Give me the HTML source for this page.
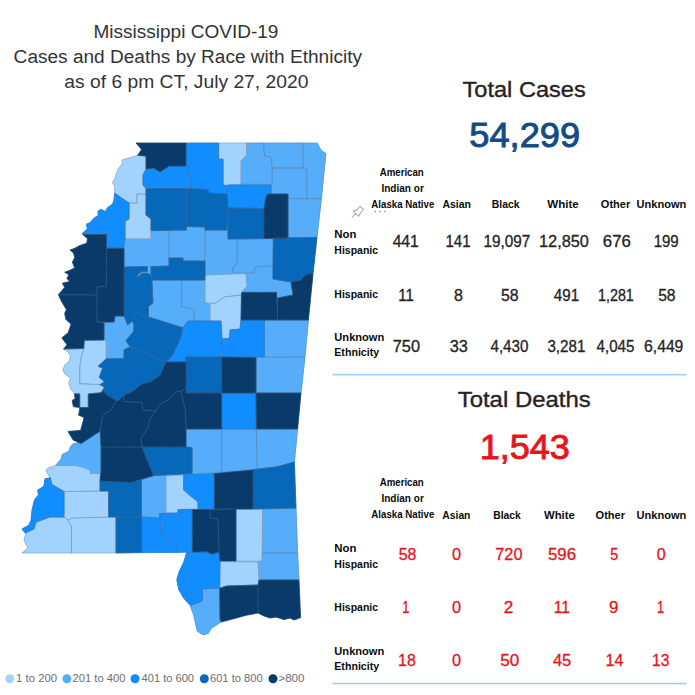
<!DOCTYPE html>
<html lang="en"><head><meta charset="utf-8"><title>Mississippi COVID-19 Cases and Deaths by Race with Ethnicity</title>
<style>
html,body{margin:0;padding:0;background:#fff;}
body{width:695px;height:695px;overflow:hidden;}
svg{display:block;}
text{font-family:"Liberation Sans",sans-serif;}
.t{fill:#333;font-size:18px;}
.h{fill:#252423;font-size:22px;stroke:#252423;stroke-width:.35px;}
.big{font-size:35.5px;stroke-width:.9px;}
.hd{fill:#0b0b0b;font-size:10.2px;font-weight:bold;}
.v{font-size:15.8px;}
.vc{fill:#252423;stroke:#252423;stroke-width:.3px;}
.vd{fill:#E8141C;stroke:#E8141C;stroke-width:.3px;}
.lg{fill:#6e6e6e;font-size:10px;}
.cty{stroke-linejoin:round;}
.bd{fill:none;stroke:#5d6d7e;stroke-width:.45;stroke-opacity:.6;stroke-linejoin:round;}
.bd5{fill:none;stroke:#93a1b2;stroke-width:.45;stroke-opacity:.6;stroke-dasharray:.9 .9;stroke-linejoin:round;}
</style></head><body>
<svg width="695" height="695" viewBox="0 0 695 695">
<rect width="695" height="695" fill="#fff"/>
<g id="map">
<polygon points="22.1,529.0 25.7,533.7 25.7,534.4 24.1,540.0 27.8,547.7 27.4,548.6 22.3,552.9 116.0,552.9 185.1,552.1 185.8,552.3 186.3,552.9 186.4,553.6 183.8,562.2 179.5,570.9 176.9,579.5 178.8,589.5 183.8,598.1 190.3,605.5 193.9,615.6 196.0,625.6 197.5,631.2 203.1,634.8 208.1,633.4 211.0,628.4 221.1,621.9 232.6,619.0 245.9,615.2 257.6,613.0 258.4,613.1 264.1,615.9 270.0,617.9 276.1,616.9 284.0,619.5 289.9,618.0 294.0,619.9 300.5,617.5 297.5,553.0 294.3,461.9 300.9,393.0 304.9,357.0 308.3,320.0 312.9,274.0 321.3,198.6 325.8,153.6 321.3,150.6 317.2,143.3 303.0,143.1 136.2,143.1 141.1,148.6 141.4,149.3 141.2,150.2 137.9,155.1 137.3,155.5 129.1,158.1 122.3,159.9 122.2,164.0 118.3,169.1 116.0,174.8 114.8,179.3 112.5,182.3 114.8,186.6 114.8,193.3 114.0,200.0 112.8,203.9 107.7,207.6 105.9,210.7 105.4,211.1 104.4,211.1 100.6,209.3 97.9,211.5 98.3,214.8 98.0,215.7 94.4,217.9 90.3,222.5 86.4,224.3 87.4,228.2 87.2,228.9 82.3,233.4 82.9,234.4 87.3,238.5 87.4,239.1 87.0,242.5 86.7,243.2 79.9,245.6 74.8,248.4 70.3,250.1 73.6,252.9 74.7,257.2 74.6,257.9 72.5,262.2 74.4,266.8 74.4,267.6 73.9,268.4 70.2,270.3 64.9,272.3 68.0,274.0 68.5,274.6 68.5,275.5 67.1,278.6 68.6,280.1 68.8,281.2 67.9,282.0 62.6,283.3 64.4,286.6 64.5,287.5 58.5,294.7 61.4,301.0 66.4,309.3 66.3,310.2 64.8,313.2 66.0,319.4 70.7,323.6 71.0,324.4 68.2,332.7 62.0,337.9 66.5,344.0 66.8,344.6 66.6,345.5 63.7,349.0 68.2,351.9 70.5,356.6 69.4,361.1 64.8,365.2 63.1,369.7 64.8,373.7 69.8,377.2 70.3,377.9 70.3,378.7 68.9,383.0 70.6,388.7 74.6,393.9 75.1,398.2 75.0,398.8 74.6,399.3 72.3,400.4 73.5,406.5 78.8,407.4 79.5,407.8 79.8,408.4 79.8,409.5 78.7,415.1 83.2,416.9 83.9,417.8 83.9,418.6 80.9,429.6 80.5,430.3 79.8,430.6 68.2,431.6 73.3,440.0 76.5,441.6 76.8,442.3 76.5,443.1 75.7,443.7 73.2,443.7 70.4,447.0 69.0,451.1 62.3,454.6 61.1,459.2 55.6,465.6 47.4,468.4 46.2,471.2 49.5,476.4 49.5,477.5 48.6,478.3 45.1,478.8 43.8,486.1 37.6,490.2 38.6,494.8 34.7,499.5 32.1,510.0 31.0,520.2 29.0,525.1 22.1,529.0" fill="#56AEFB"/>
<polygon class="cty" points="246.6,143 263.4,143 264.6,156 270.6,157 272,168 272,184.6 241,184 241,161 246.6,155" fill="#56AEFB" stroke="#56AEFB" stroke-width=".8"><title>Tippah</title></polygon>
<polygon class="cty" points="263.4,143 303,143 303,168 272.6,168 270.6,157 264.6,156" fill="#56AEFB" stroke="#56AEFB" stroke-width=".8"><title>Alcorn</title></polygon>
<polygon class="cty" points="303,143 317.3,143.2 319.3,147.1 321.4,150.6 325.9,153.6 321.4,198.6 307,198.6 307,168 303,168" fill="#56AEFB" stroke="#56AEFB" stroke-width=".8"><title>Tishomingo</title></polygon>
<polygon class="cty" points="272.6,168 306,168 307,198.6 288,198.6 288,194 271,194 271,185 272,184.6" fill="#56AEFB" stroke="#56AEFB" stroke-width=".8"><title>Prentiss</title></polygon>
<polygon class="cty" points="288,198.6 321.4,198.6 317,237.4 288,237.4" fill="#56AEFB" stroke="#56AEFB" stroke-width=".8"><title>Itawamba</title></polygon>
<polygon class="cty" points="104,323 114,322 115,316 124,316 124.8,318 127.7,324.9 132.3,320.9 134,324.9 133.4,331.8 125.9,340.5 130,346.8 124,350 124,358.8 106.2,358.8 106.2,345 106,340 104,340" fill="#56AEFB" stroke="#56AEFB" stroke-width=".8"><title>Humphreys</title></polygon>
<polygon class="cty" points="125,239 151,239 151,230.6 169,230.6 169,266 151,266.6 151,274.8 147,273.2 143,273.2 140,274.8 137.6,277.6 137,276 139.5,272.8 143,271.5 147.3,271.5 147.3,266.6 124,267 124,248 123.6,248" fill="#56AEFB" stroke="#56AEFB" stroke-width=".8"><title>Tallahatchie</title></polygon>
<polygon class="cty" points="169,230.6 186.4,230 186.4,226.5 205,227 205,261 183,261 183,258 169,258" fill="#56AEFB" stroke="#56AEFB" stroke-width=".8"><title>Yalobusha</title></polygon>
<polygon class="cty" points="205,230 227,230 228,239 237,239 238,240 237,264 233,267 232,274 205,275" fill="#56AEFB" stroke="#56AEFB" stroke-width=".8"><title>Calhoun</title></polygon>
<polygon class="cty" points="237,239 273,238.6 273,266 255,267 254,273 233,273 233,267 237,264" fill="#56AEFB" stroke="#56AEFB" stroke-width=".8"><title>Chickasaw</title></polygon>
<polygon class="cty" points="255,267 273,266 273,279 291,282 293,295 277.6,298 277,292 242,292 247,286 246,274 254,273" fill="#56AEFB" stroke="#56AEFB" stroke-width=".8"><title>Clay</title></polygon>
<polygon class="cty" points="181.6,280 205,280 205,303 210,304 210,321 194,321 194,309 181.6,307" fill="#56AEFB" stroke="#56AEFB" stroke-width=".8"><title>Montgomery</title></polygon>
<polygon class="cty" points="152,280 181.6,280 181.6,307 194,309 194,321 188,321 182.9,327.8 148.4,316.9 148.4,306.5 153,303 152.6,296 152,281" fill="#56AEFB" stroke="#56AEFB" stroke-width=".8"><title>Carroll</title></polygon>
<polygon class="cty" points="256,357.6 305,357 301,393 256,393" fill="#56AEFB" stroke="#56AEFB" stroke-width=".8"><title>Kemper</title></polygon>
<polygon class="cty" points="264.4,320 308.4,320 305,357 264.4,357" fill="#56AEFB" stroke="#56AEFB" stroke-width=".8"><title>Noxubee</title></polygon>
<polygon class="cty" points="100.2,431 101,447 101,472 99.6,473.5 90.4,473.5 89.9,470.1 84.1,467.8 76,465.5 58.2,465.5 55.9,464.9 61.1,459.1 62.2,454.5 69.1,451 70.3,447 73.2,443.6 81.2,443.6" fill="#56AEFB" stroke="#56AEFB" stroke-width=".8"><title>Claiborne</title></polygon>
<polygon class="cty" points="186,429 221.6,429 221.6,472 192,474 192,447.6 186,447" fill="#56AEFB" stroke="#56AEFB" stroke-width=".8"><title>Smith</title></polygon>
<polygon class="cty" points="221.6,429 256.4,429 257,469 221.6,471.8" fill="#56AEFB" stroke="#56AEFB" stroke-width=".8"><title>Jasper</title></polygon>
<polygon class="cty" points="256.4,429 297.6,429 294.4,462 276,467 257,469" fill="#56AEFB" stroke="#56AEFB" stroke-width=".8"><title>Clarke</title></polygon>
<polygon class="cty" points="141.6,480 153.6,475.6 166,476 166,513 159.6,513.6 159.6,518 141.6,517" fill="#56AEFB" stroke="#56AEFB" stroke-width=".8"><title>Lawrence</title></polygon>
<polygon class="cty" points="262.6,509 296,508 297.6,553 262.4,553" fill="#56AEFB" stroke="#56AEFB" stroke-width=".8"><title>Greene</title></polygon>
<polygon class="cty" points="262.4,553 297.6,553 299,580 259,580 258,562 262,561" fill="#56AEFB" stroke="#56AEFB" stroke-width=".8"><title>George</title></polygon>
<polygon class="cty" points="202.4,588.9 219.7,588.2 220,619 221.1,622 211,628.5 208.2,633.5 203.1,634.9 197.4,631.3 195.9,625.6 193.8,615.5 190.2,605.4 200.3,601.8 202.4,600.4" fill="#56AEFB" stroke="#56AEFB" stroke-width=".8"><title>Hancock</title></polygon>
<polygon class="cty" points="122.2,159.8 129,158 137.7,155.3 146,156.6 146,169 143,175 143,185 146,188 146,194 137,194 137,203 129,203 114.7,193.2 114.7,186.3 112.4,182.3 114.7,179.4 115.9,174.8 118.2,169 122.2,163.9" fill="#A2D2FE" stroke="#A2D2FE" stroke-width=".8"><title>Tunica</title></polygon>
<polygon class="cty" points="137,194 146,194 146,215 151,219 151,239 125,239 125,221 129,219 129,203 137,203" fill="#A2D2FE" stroke="#A2D2FE" stroke-width=".8"><title>Quitman</title></polygon>
<polygon class="cty" points="218.6,143 246.6,143 246.6,155 241,161 241,184 229,185 223.4,185 223.4,159 218.6,159" fill="#A2D2FE" stroke="#A2D2FE" stroke-width=".8"><title>Benton</title></polygon>
<polygon class="cty" points="205,275 232,274 246,274 247,286 242,292 241,295 224,297 216,303 205,303" fill="#A2D2FE" stroke="#A2D2FE" stroke-width=".8"><title>Webster</title></polygon>
<polygon class="cty" points="210,304 216,303 224,297 241,295 241,320 240,329 230,330 229.4,339 222,339 221,321 210,321" fill="#A2D2FE" stroke="#A2D2FE" stroke-width=".8"><title>Choctaw</title></polygon>
<polygon class="cty" points="84.3,340.2 106,340 106.2,345 106.2,358.8 98.1,366.3 102.7,368 101,372.6 99.3,377.2 104.5,381.8 99.9,384.7 79.7,383.6 79.7,368 81.4,356.5 83.7,348.5" fill="#A2D2FE" stroke="#A2D2FE" stroke-width=".8"><title>Sharkey</title></polygon>
<polygon class="cty" points="63.6,349 83.7,348.5 81.4,356.5 79.7,368 79.7,383.6 99.9,384.7 104.5,387 102.7,390.5 101,392.8 88.3,393.9 88.3,407.4 79.7,407.8 79.7,393.9 74.5,393.9 70.5,388.7 68.8,383 70.5,377.8 64.7,373.8 63,369.7 64.7,365.1 69.4,361.1 70.5,356.5 68.2,351.9" fill="#A2D2FE" stroke="#A2D2FE" stroke-width=".8"><title>Issaquena</title></polygon>
<polygon class="cty" points="166,476 183.6,475 183.6,490 198,502 198,509 178,509.6 178,513 166,513" fill="#A2D2FE" stroke="#A2D2FE" stroke-width=".8"><title>JeffDavis</title></polygon>
<polygon class="cty" points="47.3,468.3 55.9,465.5 76,465.5 84.1,467.8 89.9,470.1 90.4,473.5 100,473.5 100,491 64,491.5 51.9,484.5 50.1,477.6 46.1,471.2" fill="#A2D2FE" stroke="#A2D2FE" stroke-width=".8"><title>Jefferson</title></polygon>
<polygon class="cty" points="64,491.6 108.6,491 108.6,517 72,518 68,520 64,517" fill="#A2D2FE" stroke="#A2D2FE" stroke-width=".8"><title>Franklin</title></polygon>
<polygon class="cty" points="36,522 50,517 64,517 68,520 71.4,526 71.4,553 22,553 28,548 24,540 26,533 34,529" fill="#A2D2FE" stroke="#A2D2FE" stroke-width=".8"><title>Wilkinson</title></polygon>
<polygon class="cty" points="68,520 72,518 116,517 116,553 71.4,553 71.4,526" fill="#A2D2FE" stroke="#A2D2FE" stroke-width=".8"><title>Amite</title></polygon>
<polygon class="cty" points="236,509.4 262.6,509 262,561 236,561" fill="#A2D2FE" stroke="#A2D2FE" stroke-width=".8"><title>Perry</title></polygon>
<polygon class="cty" points="220,561.6 258,562 259,580 258,585 226,586 219.6,588" fill="#A2D2FE" stroke="#A2D2FE" stroke-width=".8"><title>Stone</title></polygon>
<polygon class="cty" points="146,169 154,168 160,172.6 169,166.6 186,166 188,167 188,174 191,175 191,188.6 146,188.6 143,185 143,175" fill="#118DFF" stroke="#118DFF" stroke-width=".8"><title>Tate</title></polygon>
<polygon class="cty" points="186,143 218.6,143 218.6,159 223,159.4 223,185 227,186 227,194 209,193 208,190 199,189 191,188.6 191,175 188,174 188,167 186,166" fill="#118DFF" stroke="#118DFF" stroke-width=".8"><title>Marshall</title></polygon>
<polygon class="cty" points="228.6,185 271,185 271,193 268,194 266,197 264,208.6 228,208 227,194 227,186" fill="#118DFF" stroke="#118DFF" stroke-width=".8"><title>Union</title></polygon>
<polygon class="cty" points="114.7,193.2 129,203 129,219 125,221 125,239 123.6,248.3 106.4,248.3 106.4,234.5 82.8,234.5 82.2,233.4 87.4,228.8 86.3,224.2 90.3,222.4 94.3,217.8 98.3,215.5 97.8,211.5 100.6,209.2 105.3,211.5 107.6,207.5 112.7,204 113.9,200" fill="#118DFF" stroke="#118DFF" stroke-width=".8"><title>Coahoma</title></polygon>
<polygon class="cty" points="188,321 221,321 222,339 221,357 186,357 186,362 166,362 172.6,354.9 177.2,345.6 180.6,337.6 182.9,327.8" fill="#118DFF" stroke="#118DFF" stroke-width=".8"><title>Attala</title></polygon>
<polygon class="cty" points="229.6,338 230,330 240,329 241,320 264.4,320 264.4,357 222,357 222,339" fill="#118DFF" stroke="#118DFF" stroke-width=".8"><title>Winston</title></polygon>
<polygon class="cty" points="221.6,393 256,393 256.4,429 221.6,429" fill="#118DFF" stroke="#118DFF" stroke-width=".8"><title>Newton</title></polygon>
<polygon class="cty" points="183.6,475 214.4,473.6 214.4,509 198,509 198,502 183.6,490" fill="#118DFF" stroke="#118DFF" stroke-width=".8"><title>Covington</title></polygon>
<polygon class="cty" points="45,478.7 49,478.1 50.1,477.6 51.9,484.5 64,491.5 64,517 50,517 36,522 34,529 25,533 22,529 29,525 31,520 32,510 34.6,499.4 38.6,494.8 37.5,490.2 43.8,486.2" fill="#118DFF" stroke="#118DFF" stroke-width=".8"><title>Adams</title></polygon>
<polygon class="cty" points="141.6,517 159.6,518 161,534 168,537 169,541 177,544 177,552.4 141.6,552.6" fill="#118DFF" stroke="#118DFF" stroke-width=".8"><title>Walthall</title></polygon>
<polygon class="cty" points="159.6,513.6 178,513 178,509.6 192.4,509.6 192.4,552 177,552.4 177,544 169,541 168,537 161,534 159.6,518" fill="#118DFF" stroke="#118DFF" stroke-width=".8"><title>Marion</title></polygon>
<polygon class="cty" points="186.6,552.6 192.4,552 199,552 206,551.6 212,554 219,552 220,561 219.7,588.2 202.4,588.9 202.4,600.4 200.3,601.8 190.2,605.4 183.7,598.2 178.7,589.6 176.8,579.5 179.4,570.9 183.7,562.3" fill="#118DFF" stroke="#118DFF" stroke-width=".8"><title>PearlRiver</title></polygon>
<polygon class="cty" points="228,208 264,208.6 264,238.6 228,239" fill="#0768BA" stroke="#0768BA" stroke-width=".8"><title>Pontotoc</title></polygon>
<polygon class="cty" points="186.4,188.6 199,189 208,190 209,193 227,194 228,208 227,230 205,230 205,227 186.4,226.5" fill="#0768BA" stroke="#0768BA" stroke-width=".8"><title>Lafayette</title></polygon>
<polygon class="cty" points="146,188.6 186.4,188.6 186.4,230 151,230.6 151,219 146,215" fill="#0768BA" stroke="#0768BA" stroke-width=".8"><title>Panola</title></polygon>
<polygon class="cty" points="124,267 147.3,266.6 147.3,271.5 143,271.5 139.5,272.8 137,276 137.6,277.6 140,274.8 143,273.2 147,273.2 151,274.8 152,281 152.6,296 153,303 148.4,306.5 148.4,316.9 136.3,312.8 132.3,320.9 127.7,324.9 124.8,318 124,316" fill="#0768BA" stroke="#0768BA" stroke-width=".8"><title>Leflore</title></polygon>
<polygon class="cty" points="151,266.6 169,266 169,258 183,258 183,261 205,261 205,280 152,280 151,274.8" fill="#0768BA" stroke="#0768BA" stroke-width=".8"><title>Grenada</title></polygon>
<polygon class="cty" points="273.4,238 317,237.4 315.6,250 313,274 306,274 301,280 291,282 273,279 273,266" fill="#0768BA" stroke="#0768BA" stroke-width=".8"><title>Monroe</title></polygon>
<polygon class="cty" points="132.3,320.9 136.3,312.8 148.4,316.9 182.9,327.8 180.6,337.6 177.2,345.6 172.6,354.9 166,362 130,346.8 125.9,340.5 133.4,331.8 134,324.9" fill="#0768BA" stroke="#0768BA" stroke-width=".8"><title>Holmes</title></polygon>
<polygon class="cty" points="106.2,358.8 124,358.8 124,350 130,346.8 166,362 163,368.5 160.4,374.5 155,379 150,382 142,384 132,392 124,395 118,401 116,400.3 107.9,395.6 102.7,390.5 104.5,387 99.9,384.7 104.5,381.8 99.3,377.2 101,372.6 102.7,368 98.1,366.3" fill="#0768BA" stroke="#0768BA" stroke-width=".8"><title>Yazoo</title></polygon>
<polygon class="cty" points="186,357 221,357 221.6,393 186,393" fill="#0768BA" stroke="#0768BA" stroke-width=".8"><title>Leake</title></polygon>
<polygon class="cty" points="142,447 186,447 192,447.6 192,473.6 153.6,475.6 148,462" fill="#0768BA" stroke="#0768BA" stroke-width=".8"><title>Simpson</title></polygon>
<polygon class="cty" points="253,469.6 276,467 294.4,462 296,508 253,509" fill="#0768BA" stroke="#0768BA" stroke-width=".8"><title>Wayne</title></polygon>
<polygon class="cty" points="100,481 131,482.6 141.4,480 141.4,517 108.6,517 108.6,491 100,491" fill="#0768BA" stroke="#0768BA" stroke-width=".8"><title>Lincoln</title></polygon>
<polygon class="cty" points="116,517 141.6,517 141.6,552.6 116,553" fill="#0768BA" stroke="#0768BA" stroke-width=".8"><title>Pike</title></polygon>
<polygon class="cty" points="136,143 186,143 186,166 169,166 160,172 154,168 146,169 146,156 137.7,155.3 141.6,149.4" fill="#093A69" stroke="#093A69" stroke-width=".8"><title>DeSoto</title></polygon>
<polygon class="cty" points="268,194 288,194 288,238 264,238.6 264,208.6 266,197" fill="#093A69" stroke="#093A69" stroke-width=".8"><title>Lee</title></polygon>
<polygon class="cty" points="82.8,234.5 106.4,234.5 106.4,286 97,287 97,295 58.4,294.7 64.7,287.3 62.4,283.2 69.9,281.5 67,278.6 68.8,274.6 64.7,272.3 70.1,270.2 74.7,267.9 72.4,262.2 74.7,257.6 73.6,253 70.1,250.1 74.7,248.3 79.9,245.5 86.8,243.2 87.4,238.6" fill="#093A69" stroke="#093A69" stroke-width=".8"><title>Bolivar</title></polygon>
<polygon class="cty" points="106.4,248.3 124,248.3 124,316 115,316 114,322 97,322 97,287 106.4,286" fill="#093A69" stroke="#093A69" stroke-width=".8"><title>Sunflower</title></polygon>
<polygon class="cty" points="58.4,294.7 97,295 97,322 104,323 104,340 84.3,340.2 83.7,348.5 63.6,349 67,344.8 61.9,337.9 68.2,332.7 71.1,324.1 65.9,319.5 64.7,313.2 66.5,309.7 61.3,301" fill="#093A69" stroke="#093A69" stroke-width=".8"><title>Washington</title></polygon>
<polygon class="cty" points="241.6,292.4 276.4,292.4 277.6,320 241,320" fill="#093A69" stroke="#093A69" stroke-width=".8"><title>Oktibbeha</title></polygon>
<polygon class="cty" points="313,274 308.4,320 277.6,320 277.6,298 293,295 291,282 301,280 306,274" fill="#093A69" stroke="#093A69" stroke-width=".8"><title>Lowndes</title></polygon>
<polygon class="cty" points="88.3,393.9 101,392.8 102.7,390.5 107.9,395.6 116,400.3 111.4,409.5 102.7,415.2 100.2,431 81.2,443.6 73.2,440.1 68,431.5 80.6,430.4 84,418 83.2,417 78.6,415.2 79.7,409.5 79.7,407.6 88.3,407.4" fill="#093A69" stroke="#093A69" stroke-width=".8"><title>Warren</title></polygon>
<polygon class="cty" points="74.5,393.9 79.7,393.9 79.7,407.6 73.4,406.6 72.2,400.3 75.1,399.1" fill="#093A69" stroke="#093A69" stroke-width=".8"><title>WarrenW</title></polygon>
<polygon class="cty" points="166,362 186,362 186,388.4 181,391.4 176,392 168.6,400 161,403 156,411 143,410 142,402.4 124,401.6 124,395 132,392 142,384 150,382 155,379 160.4,374.5 163,368.5" fill="#093A69" stroke="#093A69" stroke-width=".8"><title>Madison</title></polygon>
<polygon class="cty" points="221.6,357 256,357.6 256,393 221.6,393" fill="#093A69" stroke="#093A69" stroke-width=".8"><title>Neshoba</title></polygon>
<polygon class="cty" points="116,400.3 118,401 124,395 124,401.6 142,402.4 143,410 156,411 150,418 148,428 141,438 142,447 101,447 100.2,431 102.7,415.2 111.4,409.5" fill="#093A69" stroke="#093A69" stroke-width=".8"><title>Hinds</title></polygon>
<polygon class="cty" points="176,392 181,391.4 183,400 185.6,412 186,429 186,447 142,447 141,438 148,428 150,418 156,411 161,403 168.6,400" fill="#093A69" stroke="#093A69" stroke-width=".8"><title>Rankin</title></polygon>
<polygon class="cty" points="181,391.4 186,388.4 186,393 221.6,393 221.6,429 186,429 185.6,412 183,400" fill="#093A69" stroke="#093A69" stroke-width=".8"><title>Scott</title></polygon>
<polygon class="cty" points="256,393 301,393 297.6,429 256.4,429" fill="#093A69" stroke="#093A69" stroke-width=".8"><title>Lauderdale</title></polygon>
<polygon class="cty" points="101,447 142,447 148,462 153.6,475.6 131,482.6 100,481 101,472" fill="#093A69" stroke="#093A69" stroke-width=".8"><title>Copiah</title></polygon>
<polygon class="cty" points="214.4,473.6 253,470 253,509 214.4,509" fill="#093A69" stroke="#093A69" stroke-width=".8"><title>Jones</title></polygon>
<polygon class="cty" points="192.4,509.6 210,509.6 210,518 218,519 219,552 212,554 206,551.6 199,552 192.4,552" fill="#093A69" stroke="#093A69" stroke-width=".8"><title>Lamar</title></polygon>
<polygon class="cty" points="210,509.6 236,509 236,561 220,561 219,552 218,519 210,518" fill="#093A69" stroke="#093A69" stroke-width=".8"><title>Forrest</title></polygon>
<polygon class="cty" points="219.7,588.2 226.9,586 258,585 258,613 246,615.3 232.6,619.1 221.1,622 220,619" fill="#093A69" stroke="#093A69" stroke-width=".8"><title>Harrison</title></polygon>
<polygon class="cty" points="259,580 299,580 300.6,617.6 294,620 290,618 284,619.6 276,617 270,618 264,616 258,613 258,585" fill="#093A69" stroke="#093A69" stroke-width=".8"><title>Jackson</title></polygon>
<polygon class="bd5" points="136,143 186,143 186,166 169,166 160,172 154,168 146,169 146,156 137.7,155.3 141.6,149.4"/>
<polygon class="bd" points="122.2,159.8 129,158 137.7,155.3 146,156.6 146,169 143,175 143,185 146,188 146,194 137,194 137,203 129,203 114.7,193.2 114.7,186.3 112.4,182.3 114.7,179.4 115.9,174.8 118.2,169 122.2,163.9"/>
<polygon class="bd" points="137,194 146,194 146,215 151,219 151,239 125,239 125,221 129,219 129,203 137,203"/>
<polygon class="bd" points="146,169 154,168 160,172.6 169,166.6 186,166 188,167 188,174 191,175 191,188.6 146,188.6 143,185 143,175"/>
<polygon class="bd" points="186,143 218.6,143 218.6,159 223,159.4 223,185 227,186 227,194 209,193 208,190 199,189 191,188.6 191,175 188,174 188,167 186,166"/>
<polygon class="bd" points="218.6,143 246.6,143 246.6,155 241,161 241,184 229,185 223.4,185 223.4,159 218.6,159"/>
<polygon class="bd" points="246.6,143 263.4,143 264.6,156 270.6,157 272,168 272,184.6 241,184 241,161 246.6,155"/>
<polygon class="bd" points="263.4,143 303,143 303,168 272.6,168 270.6,157 264.6,156"/>
<polygon class="bd" points="303,143 317.3,143.2 319.3,147.1 321.4,150.6 325.9,153.6 321.4,198.6 307,198.6 307,168 303,168"/>
<polygon class="bd" points="272.6,168 306,168 307,198.6 288,198.6 288,194 271,194 271,185 272,184.6"/>
<polygon class="bd" points="228.6,185 271,185 271,193 268,194 266,197 264,208.6 228,208 227,194 227,186"/>
<polygon class="bd5" points="268,194 288,194 288,238 264,238.6 264,208.6 266,197"/>
<polygon class="bd" points="288,198.6 321.4,198.6 317,237.4 288,237.4"/>
<polygon class="bd" points="228,208 264,208.6 264,238.6 228,239"/>
<polygon class="bd" points="186.4,188.6 199,189 208,190 209,193 227,194 228,208 227,230 205,230 205,227 186.4,226.5"/>
<polygon class="bd" points="146,188.6 186.4,188.6 186.4,230 151,230.6 151,219 146,215"/>
<polygon class="bd" points="114.7,193.2 129,203 129,219 125,221 125,239 123.6,248.3 106.4,248.3 106.4,234.5 82.8,234.5 82.2,233.4 87.4,228.8 86.3,224.2 90.3,222.4 94.3,217.8 98.3,215.5 97.8,211.5 100.6,209.2 105.3,211.5 107.6,207.5 112.7,204 113.9,200"/>
<polygon class="bd5" points="82.8,234.5 106.4,234.5 106.4,286 97,287 97,295 58.4,294.7 64.7,287.3 62.4,283.2 69.9,281.5 67,278.6 68.8,274.6 64.7,272.3 70.1,270.2 74.7,267.9 72.4,262.2 74.7,257.6 73.6,253 70.1,250.1 74.7,248.3 79.9,245.5 86.8,243.2 87.4,238.6"/>
<polygon class="bd5" points="106.4,248.3 124,248.3 124,316 115,316 114,322 97,322 97,287 106.4,286"/>
<polygon class="bd5" points="58.4,294.7 97,295 97,322 104,323 104,340 84.3,340.2 83.7,348.5 63.6,349 67,344.8 61.9,337.9 68.2,332.7 71.1,324.1 65.9,319.5 64.7,313.2 66.5,309.7 61.3,301"/>
<polygon class="bd" points="104,323 114,322 115,316 124,316 124.8,318 127.7,324.9 132.3,320.9 134,324.9 133.4,331.8 125.9,340.5 130,346.8 124,350 124,358.8 106.2,358.8 106.2,345 106,340 104,340"/>
<polygon class="bd" points="124,267 147.3,266.6 147.3,271.5 143,271.5 139.5,272.8 137,276 137.6,277.6 140,274.8 143,273.2 147,273.2 151,274.8 152,281 152.6,296 153,303 148.4,306.5 148.4,316.9 136.3,312.8 132.3,320.9 127.7,324.9 124.8,318 124,316"/>
<polygon class="bd" points="125,239 151,239 151,230.6 169,230.6 169,266 151,266.6 151,274.8 147,273.2 143,273.2 140,274.8 137.6,277.6 137,276 139.5,272.8 143,271.5 147.3,271.5 147.3,266.6 124,267 124,248 123.6,248"/>
<polygon class="bd" points="151,266.6 169,266 169,258 183,258 183,261 205,261 205,280 152,280 151,274.8"/>
<polygon class="bd" points="169,230.6 186.4,230 186.4,226.5 205,227 205,261 183,261 183,258 169,258"/>
<polygon class="bd" points="205,230 227,230 228,239 237,239 238,240 237,264 233,267 232,274 205,275"/>
<polygon class="bd" points="237,239 273,238.6 273,266 255,267 254,273 233,273 233,267 237,264"/>
<polygon class="bd" points="273.4,238 317,237.4 315.6,250 313,274 306,274 301,280 291,282 273,279 273,266"/>
<polygon class="bd" points="255,267 273,266 273,279 291,282 293,295 277.6,298 277,292 242,292 247,286 246,274 254,273"/>
<polygon class="bd" points="205,275 232,274 246,274 247,286 242,292 241,295 224,297 216,303 205,303"/>
<polygon class="bd5" points="241.6,292.4 276.4,292.4 277.6,320 241,320"/>
<polygon class="bd5" points="313,274 308.4,320 277.6,320 277.6,298 293,295 291,282 301,280 306,274"/>
<polygon class="bd" points="210,304 216,303 224,297 241,295 241,320 240,329 230,330 229.4,339 222,339 221,321 210,321"/>
<polygon class="bd" points="181.6,280 205,280 205,303 210,304 210,321 194,321 194,309 181.6,307"/>
<polygon class="bd" points="152,280 181.6,280 181.6,307 194,309 194,321 188,321 182.9,327.8 148.4,316.9 148.4,306.5 153,303 152.6,296 152,281"/>
<polygon class="bd" points="188,321 221,321 222,339 221,357 186,357 186,362 166,362 172.6,354.9 177.2,345.6 180.6,337.6 182.9,327.8"/>
<polygon class="bd" points="132.3,320.9 136.3,312.8 148.4,316.9 182.9,327.8 180.6,337.6 177.2,345.6 172.6,354.9 166,362 130,346.8 125.9,340.5 133.4,331.8 134,324.9"/>
<polygon class="bd" points="106.2,358.8 124,358.8 124,350 130,346.8 166,362 163,368.5 160.4,374.5 155,379 150,382 142,384 132,392 124,395 118,401 116,400.3 107.9,395.6 102.7,390.5 104.5,387 99.9,384.7 104.5,381.8 99.3,377.2 101,372.6 102.7,368 98.1,366.3"/>
<polygon class="bd" points="84.3,340.2 106,340 106.2,345 106.2,358.8 98.1,366.3 102.7,368 101,372.6 99.3,377.2 104.5,381.8 99.9,384.7 79.7,383.6 79.7,368 81.4,356.5 83.7,348.5"/>
<polygon class="bd" points="63.6,349 83.7,348.5 81.4,356.5 79.7,368 79.7,383.6 99.9,384.7 104.5,387 102.7,390.5 101,392.8 88.3,393.9 88.3,407.4 79.7,407.8 79.7,393.9 74.5,393.9 70.5,388.7 68.8,383 70.5,377.8 64.7,373.8 63,369.7 64.7,365.1 69.4,361.1 70.5,356.5 68.2,351.9"/>
<polygon class="bd5" points="88.3,393.9 101,392.8 102.7,390.5 107.9,395.6 116,400.3 111.4,409.5 102.7,415.2 100.2,431 81.2,443.6 73.2,440.1 68,431.5 80.6,430.4 84,418 83.2,417 78.6,415.2 79.7,409.5 79.7,407.6 88.3,407.4"/>
<polygon class="bd5" points="74.5,393.9 79.7,393.9 79.7,407.6 73.4,406.6 72.2,400.3 75.1,399.1"/>
<polygon class="bd5" points="166,362 186,362 186,388.4 181,391.4 176,392 168.6,400 161,403 156,411 143,410 142,402.4 124,401.6 124,395 132,392 142,384 150,382 155,379 160.4,374.5 163,368.5"/>
<polygon class="bd" points="186,357 221,357 221.6,393 186,393"/>
<polygon class="bd5" points="221.6,357 256,357.6 256,393 221.6,393"/>
<polygon class="bd" points="256,357.6 305,357 301,393 256,393"/>
<polygon class="bd" points="229.6,338 230,330 240,329 241,320 264.4,320 264.4,357 222,357 222,339"/>
<polygon class="bd" points="264.4,320 308.4,320 305,357 264.4,357"/>
<polygon class="bd5" points="116,400.3 118,401 124,395 124,401.6 142,402.4 143,410 156,411 150,418 148,428 141,438 142,447 101,447 100.2,431 102.7,415.2 111.4,409.5"/>
<polygon class="bd5" points="176,392 181,391.4 183,400 185.6,412 186,429 186,447 142,447 141,438 148,428 150,418 156,411 161,403 168.6,400"/>
<polygon class="bd5" points="181,391.4 186,388.4 186,393 221.6,393 221.6,429 186,429 185.6,412 183,400"/>
<polygon class="bd" points="221.6,393 256,393 256.4,429 221.6,429"/>
<polygon class="bd5" points="256,393 301,393 297.6,429 256.4,429"/>
<polygon class="bd" points="100.2,431 101,447 101,472 99.6,473.5 90.4,473.5 89.9,470.1 84.1,467.8 76,465.5 58.2,465.5 55.9,464.9 61.1,459.1 62.2,454.5 69.1,451 70.3,447 73.2,443.6 81.2,443.6"/>
<polygon class="bd5" points="101,447 142,447 148,462 153.6,475.6 131,482.6 100,481 101,472"/>
<polygon class="bd" points="142,447 186,447 192,447.6 192,473.6 153.6,475.6 148,462"/>
<polygon class="bd" points="186,429 221.6,429 221.6,472 192,474 192,447.6 186,447"/>
<polygon class="bd" points="221.6,429 256.4,429 257,469 221.6,471.8"/>
<polygon class="bd" points="256.4,429 297.6,429 294.4,462 276,467 257,469"/>
<polygon class="bd" points="253,469.6 276,467 294.4,462 296,508 253,509"/>
<polygon class="bd5" points="214.4,473.6 253,470 253,509 214.4,509"/>
<polygon class="bd" points="183.6,475 214.4,473.6 214.4,509 198,509 198,502 183.6,490"/>
<polygon class="bd" points="166,476 183.6,475 183.6,490 198,502 198,509 178,509.6 178,513 166,513"/>
<polygon class="bd" points="141.6,480 153.6,475.6 166,476 166,513 159.6,513.6 159.6,518 141.6,517"/>
<polygon class="bd" points="100,481 131,482.6 141.4,480 141.4,517 108.6,517 108.6,491 100,491"/>
<polygon class="bd" points="47.3,468.3 55.9,465.5 76,465.5 84.1,467.8 89.9,470.1 90.4,473.5 100,473.5 100,491 64,491.5 51.9,484.5 50.1,477.6 46.1,471.2"/>
<polygon class="bd" points="45,478.7 49,478.1 50.1,477.6 51.9,484.5 64,491.5 64,517 50,517 36,522 34,529 25,533 22,529 29,525 31,520 32,510 34.6,499.4 38.6,494.8 37.5,490.2 43.8,486.2"/>
<polygon class="bd" points="64,491.6 108.6,491 108.6,517 72,518 68,520 64,517"/>
<polygon class="bd" points="36,522 50,517 64,517 68,520 71.4,526 71.4,553 22,553 28,548 24,540 26,533 34,529"/>
<polygon class="bd" points="68,520 72,518 116,517 116,553 71.4,553 71.4,526"/>
<polygon class="bd" points="116,517 141.6,517 141.6,552.6 116,553"/>
<polygon class="bd" points="141.6,517 159.6,518 161,534 168,537 169,541 177,544 177,552.4 141.6,552.6"/>
<polygon class="bd" points="159.6,513.6 178,513 178,509.6 192.4,509.6 192.4,552 177,552.4 177,544 169,541 168,537 161,534 159.6,518"/>
<polygon class="bd5" points="192.4,509.6 210,509.6 210,518 218,519 219,552 212,554 206,551.6 199,552 192.4,552"/>
<polygon class="bd5" points="210,509.6 236,509 236,561 220,561 219,552 218,519 210,518"/>
<polygon class="bd" points="236,509.4 262.6,509 262,561 236,561"/>
<polygon class="bd" points="262.6,509 296,508 297.6,553 262.4,553"/>
<polygon class="bd" points="262.4,553 297.6,553 299,580 259,580 258,562 262,561"/>
<polygon class="bd" points="220,561.6 258,562 259,580 258,585 226,586 219.6,588"/>
<polygon class="bd" points="186.6,552.6 192.4,552 199,552 206,551.6 212,554 219,552 220,561 219.7,588.2 202.4,588.9 202.4,600.4 200.3,601.8 190.2,605.4 183.7,598.2 178.7,589.6 176.8,579.5 179.4,570.9 183.7,562.3"/>
<polygon class="bd" points="202.4,588.9 219.7,588.2 220,619 221.1,622 211,628.5 208.2,633.5 203.1,634.9 197.4,631.3 195.9,625.6 193.8,615.5 190.2,605.4 200.3,601.8 202.4,600.4"/>
<polygon class="bd5" points="219.7,588.2 226.9,586 258,585 258,613 246,615.3 232.6,619.1 221.1,622 220,619"/>
<polygon class="bd5" points="259,580 299,580 300.6,617.6 294,620 290,618 284,619.6 276,617 270,618 264,616 258,613 258,585"/>
</g>
<text class="t" x="93.44" y="37.7" textLength="184.96" lengthAdjust="spacingAndGlyphs">Mississippi COVID-19</text>
<text class="t" x="13.63" y="63.2" textLength="348.40" lengthAdjust="spacingAndGlyphs">Cases and Deaths by Race with Ethnicity</text>
<text class="t" x="64.38" y="88.3" textLength="243.97" lengthAdjust="spacingAndGlyphs">as of 6 pm CT, July 27, 2020</text>
<text class="h" x="462.57" y="96.8" textLength="123.18" lengthAdjust="spacingAndGlyphs">Total Cases</text>
<text class="big" x="469.25" y="147.1" textLength="110.97" lengthAdjust="spacingAndGlyphs" fill="#134B83" stroke="#134B83">54,299</text>
<text class="h" x="457.66" y="406.6" textLength="133.10" lengthAdjust="spacingAndGlyphs">Total Deaths</text>
<text class="big" x="479.65" y="458.9" textLength="90.23" lengthAdjust="spacingAndGlyphs" fill="#E8141C" stroke="#E8141C">1,543</text>
<text class="hd" x="379.66" y="176.4" textLength="44.14" lengthAdjust="spacingAndGlyphs">American</text>
<text class="hd" x="381.43" y="192.2" textLength="42.42" lengthAdjust="spacingAndGlyphs">Indian or</text>
<text class="hd" x="371.36" y="207.8" textLength="62.97" lengthAdjust="spacingAndGlyphs">Alaska Native</text>
<text class="hd" x="442.54" y="207.8" textLength="28.41" lengthAdjust="spacingAndGlyphs">Asian</text>
<text class="hd" x="491.70" y="207.8" textLength="27.89" lengthAdjust="spacingAndGlyphs">Black</text>
<text class="hd" x="547.39" y="207.8" textLength="31.41" lengthAdjust="spacingAndGlyphs">White</text>
<text class="hd" x="600.85" y="207.8" textLength="29.32" lengthAdjust="spacingAndGlyphs">Other</text>
<text class="hd" x="636.53" y="207.8" textLength="49.85" lengthAdjust="spacingAndGlyphs">Unknown</text>
<text class="hd" x="334.24" y="238" textLength="22.17" lengthAdjust="spacingAndGlyphs">Non</text>
<text class="hd" x="334.30" y="253.7" textLength="43.81" lengthAdjust="spacingAndGlyphs">Hispanic</text>
<text class="v vc" x="392.64" y="246.8" textLength="26.23" lengthAdjust="spacingAndGlyphs">441</text>
<text class="v vc" x="445.46" y="246.8" textLength="25.08" lengthAdjust="spacingAndGlyphs">141</text>
<text class="v vc" x="483.43" y="246.8" textLength="46.84" lengthAdjust="spacingAndGlyphs">19,097</text>
<text class="v vc" x="539.06" y="246.8" textLength="49.88" lengthAdjust="spacingAndGlyphs">12,850</text>
<text class="v vc" x="602.85" y="246.8" textLength="27.88" lengthAdjust="spacingAndGlyphs">676</text>
<text class="v vc" x="653.66" y="246.8" textLength="25.06" lengthAdjust="spacingAndGlyphs">199</text>
<text class="hd" x="334.30" y="298.4" textLength="43.81" lengthAdjust="spacingAndGlyphs">Hispanic</text>
<text class="v vc" x="398.15" y="301.2" textLength="15.69" lengthAdjust="spacingAndGlyphs">11</text>
<text class="v vc" x="454.01" y="301.2" textLength="8.89" lengthAdjust="spacingAndGlyphs">8</text>
<text class="v vc" x="501.07" y="301.2" textLength="17.62" lengthAdjust="spacingAndGlyphs">58</text>
<text class="v vc" x="553.85" y="301.2" textLength="25.29" lengthAdjust="spacingAndGlyphs">491</text>
<text class="v vc" x="598.01" y="301.2" textLength="35.79" lengthAdjust="spacingAndGlyphs">1,281</text>
<text class="v vc" x="658.17" y="301.2" textLength="17.41" lengthAdjust="spacingAndGlyphs">58</text>
<text class="hd" x="334.33" y="341.2" textLength="49.96" lengthAdjust="spacingAndGlyphs">Unknown</text>
<text class="hd" x="334.29" y="356.3" textLength="44.87" lengthAdjust="spacingAndGlyphs">Ethnicity</text>
<text class="v vc" x="392.66" y="351.8" textLength="27.38" lengthAdjust="spacingAndGlyphs">750</text>
<text class="v vc" x="449.78" y="351.8" textLength="18.14" lengthAdjust="spacingAndGlyphs">33</text>
<text class="v vc" x="490.45" y="351.8" textLength="38.04" lengthAdjust="spacingAndGlyphs">4,430</text>
<text class="v vc" x="547.42" y="351.8" textLength="37.92" lengthAdjust="spacingAndGlyphs">3,281</text>
<text class="v vc" x="596.55" y="351.8" textLength="37.78" lengthAdjust="spacingAndGlyphs">4,045</text>
<text class="v vc" x="644.10" y="351.8" textLength="39.24" lengthAdjust="spacingAndGlyphs">6,449</text>
<text class="hd" x="379.66" y="486.4" textLength="44.14" lengthAdjust="spacingAndGlyphs">American</text>
<text class="hd" x="381.43" y="502.2" textLength="42.42" lengthAdjust="spacingAndGlyphs">Indian or</text>
<text class="hd" x="371.36" y="517.8" textLength="62.97" lengthAdjust="spacingAndGlyphs">Alaska Native</text>
<text class="hd" x="442.34" y="519.3" textLength="28.10" lengthAdjust="spacingAndGlyphs">Asian</text>
<text class="hd" x="493.21" y="519.3" textLength="27.58" lengthAdjust="spacingAndGlyphs">Black</text>
<text class="hd" x="543.99" y="519.3" textLength="30.80" lengthAdjust="spacingAndGlyphs">White</text>
<text class="hd" x="595.55" y="519.3" textLength="29.42" lengthAdjust="spacingAndGlyphs">Other</text>
<text class="hd" x="636.53" y="519.3" textLength="49.85" lengthAdjust="spacingAndGlyphs">Unknown</text>
<text class="hd" x="334.24" y="551.8" textLength="22.17" lengthAdjust="spacingAndGlyphs">Non</text>
<text class="hd" x="334.30" y="567.5" textLength="43.81" lengthAdjust="spacingAndGlyphs">Hispanic</text>
<text class="v vd" x="398.67" y="560.2" textLength="17.62" lengthAdjust="spacingAndGlyphs">58</text>
<text class="v vd" x="451.96" y="560.2" textLength="9.07" lengthAdjust="spacingAndGlyphs">0</text>
<text class="v vd" x="495.27" y="560.2" textLength="27.17" lengthAdjust="spacingAndGlyphs">720</text>
<text class="v vd" x="548.03" y="560.2" textLength="28.01" lengthAdjust="spacingAndGlyphs">596</text>
<text class="v vd" x="610.33" y="560.2" textLength="7.98" lengthAdjust="spacingAndGlyphs">5</text>
<text class="v vd" x="656.67" y="560.2" textLength="8.96" lengthAdjust="spacingAndGlyphs">0</text>
<text class="hd" x="334.30" y="611.4" textLength="43.81" lengthAdjust="spacingAndGlyphs">Hispanic</text>
<text class="v vd" x="402.27" y="613" textLength="7.21" lengthAdjust="spacingAndGlyphs">1</text>
<text class="v vd" x="451.96" y="613" textLength="9.07" lengthAdjust="spacingAndGlyphs">0</text>
<text class="v vd" x="503.84" y="613" textLength="9.52" lengthAdjust="spacingAndGlyphs">2</text>
<text class="v vd" x="553.72" y="613" textLength="16.14" lengthAdjust="spacingAndGlyphs">11</text>
<text class="v vd" x="609.11" y="613" textLength="9.39" lengthAdjust="spacingAndGlyphs">9</text>
<text class="v vd" x="657.02" y="613" textLength="7.21" lengthAdjust="spacingAndGlyphs">1</text>
<text class="hd" x="334.33" y="654.7" textLength="49.96" lengthAdjust="spacingAndGlyphs">Unknown</text>
<text class="hd" x="334.29" y="669.8" textLength="44.87" lengthAdjust="spacingAndGlyphs">Ethnicity</text>
<text class="v vd" x="398.09" y="666" textLength="17.70" lengthAdjust="spacingAndGlyphs">18</text>
<text class="v vd" x="451.96" y="666" textLength="9.07" lengthAdjust="spacingAndGlyphs">0</text>
<text class="v vd" x="500.31" y="666" textLength="19.06" lengthAdjust="spacingAndGlyphs">50</text>
<text class="v vd" x="552.92" y="666" textLength="18.37" lengthAdjust="spacingAndGlyphs">45</text>
<text class="v vd" x="605.58" y="666" textLength="17.79" lengthAdjust="spacingAndGlyphs">14</text>
<text class="v vd" x="652.01" y="666" textLength="17.38" lengthAdjust="spacingAndGlyphs">13</text>
<rect x="332.5" y="373.9" width="354" height="1.5" fill="#9CCBF2"/>
<rect x="332.5" y="682.8" width="354" height="1.5" fill="#9CCBF2"/>
<g stroke="#6a6a6a" stroke-width=".75" fill="none" stroke-linecap="round" stroke-linejoin="round"><path d="M352.1 217.3 L355.9 213.6"/><path d="M353.6 210.8 L357 210.1 L359.8 206.3 L363.6 209.4 L360.8 212.5 L358.8 216 Z"/></g>
<g fill="#777"><circle cx="375.4" cy="211.5" r=".75"/><circle cx="380.2" cy="211.5" r=".75"/><circle cx="385" cy="211.5" r=".75"/></g>
<circle cx="9.8" cy="678.7" r="4.5" fill="#A2D2FE"/>
<text class="lg" x="16.14" y="682.3" textLength="40.90" lengthAdjust="spacingAndGlyphs">1 to 200</text>
<circle cx="66.9" cy="678.7" r="4.5" fill="#56AEFB"/>
<text class="lg" x="72.44" y="682.3" textLength="53.00" lengthAdjust="spacingAndGlyphs">201 to 400</text>
<circle cx="135" cy="678.7" r="4.5" fill="#118DFF"/>
<text class="lg" x="141.55" y="682.3" textLength="52.49" lengthAdjust="spacingAndGlyphs">401 to 600</text>
<circle cx="204.3" cy="678.7" r="4.5" fill="#0768BA"/>
<text class="lg" x="209.93" y="682.3" textLength="52.80" lengthAdjust="spacingAndGlyphs">601 to 800</text>
<circle cx="273" cy="678.7" r="4.5" fill="#093A69"/>
<text class="lg" x="278.43" y="682.3" textLength="26.02" lengthAdjust="spacingAndGlyphs">&gt;800</text>
</svg></body></html>
